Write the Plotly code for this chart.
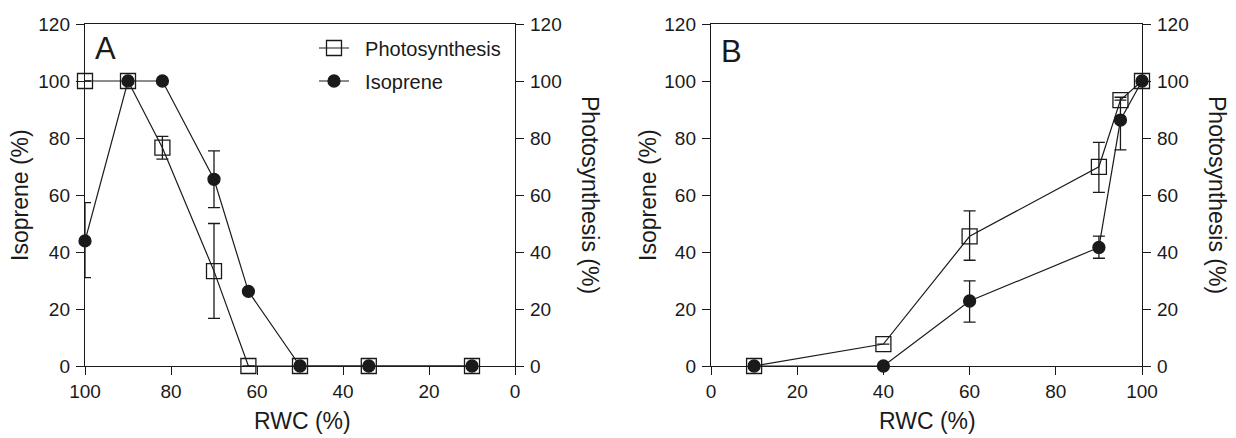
import plotly.graph_objects as go

# ---- Data ----
# Panel A: drought (RWC decreasing)
rwc_a = [100, 90, 82, 70, 62, 50, 34, 10]
photo_a = [100, 100, 76.6, 33.3, 0, 0, 0, 0]
photo_a_err_plus = [0, 0, 4.0, 16.7, 0, 0, 0, 0]
photo_a_err_minus = [0, 0, 4.0, 16.6, 0, 0, 0, 0]
iso_a = [43.9, 100, 100, 65.5, 26.2, 0, 0, 0]
iso_a_err_plus = [13.4, 0, 0, 10.0, 0, 0, 0, 0]
iso_a_err_minus = [12.9, 0, 0, 9.9, 0, 0, 0, 0]

# Panel B: recovery (RWC increasing)
rwc_b = [10, 40, 60, 90, 95, 100]
photo_b = [0, 7.7, 45.5, 69.9, 93.3, 100]
photo_b_err_plus = [0, 0, 8.9, 8.6, 0, 0]
photo_b_err_minus = [0, 0, 8.4, 9.0, 0, 0]
iso_b = [0, 0, 22.8, 41.6, 86.3, 100]
iso_b_err_plus = [0, 0, 7.1, 4.0, 8.0, 0]
iso_b_err_minus = [0, 0, 7.4, 3.8, 10.5, 0]

x_ticks = [0, 20, 40, 60, 80, 100]
y_ticks = [0, 20, 40, 60, 80, 100, 120]

W, H = 1236, 438
ML, MR, MT, MB = 0, 0, 24, 72
PH = H - MT - MB

INK = "#1a1a1a"
FONT = "Liberation Sans, Arial, sans-serif"

def px_x(p):
    return p / W

def px_y(p):
    return (H - MB - p) / PH

fig = go.Figure()

def add_series(x, y, ep, em, xa, ya, name, symbol, size, legend, show):
    fig.add_trace(go.Scatter(
        x=x, y=y, xaxis=xa, yaxis=ya, name=name,
        mode="lines+markers",
        line=dict(color=INK, width=1.2),
        marker=dict(symbol=symbol, size=size, color=INK,
                    line=dict(color=INK, width=1.3)),
        error_y=dict(type="data", symmetric=False, array=ep, arrayminus=em,
                     color=INK, thickness=1.3, width=6),
        cliponaxis=False,
        showlegend=show, legend=legend,
    ))

NB = "\u00a0\u00a0"
# Panel A
add_series(rwc_a, photo_a, photo_a_err_plus, photo_a_err_minus, "x", "y2",
           NB + "Photosynthesis", "square-open", 15, "legend", True)
add_series(rwc_a, iso_a, iso_a_err_plus, iso_a_err_minus, "x", "y",
           NB + "Isoprene", "circle", 12, "legend2", True)
# Panel B
add_series(rwc_b, photo_b, photo_b_err_plus, photo_b_err_minus, "x2", "y4",
           "Photosynthesis", "square-open", 15, "legend", False)
add_series(rwc_b, iso_b, iso_b_err_plus, iso_b_err_minus, "x2", "y3",
           "Isoprene", "circle", 12, "legend2", False)

tickfont = dict(family=FONT, size=19, color=INK)

def xaxis_cfg(domain, rng):
    return dict(domain=domain, range=rng, tickvals=x_ticks, ticks="outside",
                ticklen=8, tickwidth=1.3, tickcolor=INK, showline=True,
                linecolor=INK, linewidth=1.4, mirror=True, showgrid=False,
                zeroline=False, tickfont=tickfont, fixedrange=True,
                automargin=False)

def yaxis_cfg(anchor, side, overlaying=None):
    d = dict(domain=[0, 1], range=[0, 120], tickvals=y_ticks, ticks="outside",
             ticklen=8, tickwidth=1.3, tickcolor=INK, showline=True,
             linecolor=INK, linewidth=1.4, showgrid=False, zeroline=False,
             tickfont=tickfont, anchor=anchor, side=side, fixedrange=True,
             automargin=False, ticklabelstandoff=2)
    if overlaying:
        d["overlaying"] = overlaying
    return d

xa_dom = [px_x(85), px_x(515)]
xb_dom = [px_x(711), px_x(1142)]

legend_common = dict(font=dict(family=FONT, size=20, color=INK),
                     bgcolor="rgba(0,0,0,0)", borderwidth=0,
                     xanchor="left", yanchor="middle", itemwidth=30,
                     xref="paper", yref="paper")

fig.update_layout(
    width=W, height=H, autosize=False,
    margin=dict(l=ML, r=MR, t=MT, b=MB, pad=0, autoexpand=False),
    paper_bgcolor="white", plot_bgcolor="white",
    font=dict(family=FONT, size=19, color=INK),
    xaxis=xaxis_cfg(xa_dom, [100, 0]),
    yaxis=yaxis_cfg("x", "left"),
    yaxis2=yaxis_cfg("x", "right", "y"),
    xaxis2=xaxis_cfg(xb_dom, [0, 100]),
    yaxis3=yaxis_cfg("x2", "left"),
    yaxis4=yaxis_cfg("x2", "right", "y3"),
    legend=dict(x=px_x(314), y=px_y(48), **legend_common),
    legend2=dict(x=px_x(314), y=px_y(81), **legend_common),
)

ann_font = dict(family=FONT, size=23, color=INK)
annotations = [
    dict(text="A", x=px_x(105), y=px_y(49), font=dict(family=FONT, size=31, color=INK)),
    dict(text="B", x=px_x(731), y=px_y(51), font=dict(family=FONT, size=31, color=INK)),
    dict(text="Isoprene (%)", x=px_x(20), y=px_y(195), textangle=-90, font=ann_font),
    dict(text="Isoprene (%)", x=px_x(648), y=px_y(195), textangle=-90, font=ann_font),
    dict(text="Photosynthesis (%)", x=px_x(590), y=px_y(195), textangle=90, font=ann_font),
    dict(text="Photosynthesis (%)", x=px_x(1217), y=px_y(195), textangle=90, font=ann_font),
    dict(text="RWC (%)", x=px_x(302), y=px_y(421), font=ann_font),
    dict(text="RWC (%)", x=px_x(927), y=px_y(421), font=ann_font),
]
for a in annotations:
    a.update(xref="paper", yref="paper", xanchor="center", yanchor="middle",
             showarrow=False)
fig.update_layout(annotations=annotations)

fig.write_html("out.html")
